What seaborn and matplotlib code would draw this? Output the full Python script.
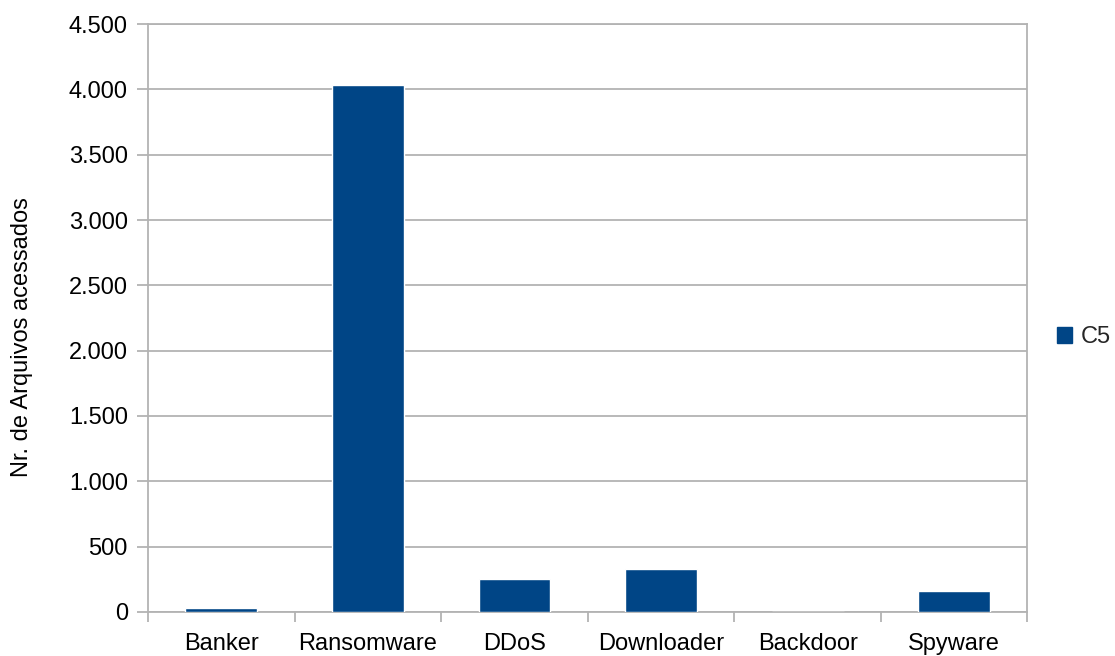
import matplotlib
matplotlib.use("Agg")
import matplotlib.pyplot as plt
from matplotlib.ticker import FuncFormatter, FixedLocator
from matplotlib.patches import Patch
import seaborn as sns
import pandas as pd

categories = ["Banker", "Ransomware", "DDoS", "Downloader", "Backdoor", "Spyware"]
c5_values = [33, 4030, 250, 330, 0, 163]
y_ticks = [0, 500, 1000, 1500, 2000, 2500, 3000, 3500, 4000, 4500]
series_name = "C5"

sns.set_theme(style="white")
plt.rcParams["font.family"] = ["Liberation Sans", "DejaVu Sans"]

grid_color = "#b3b3b3"
bar_color = "#004586"
fs = 17

df = pd.DataFrame({"categoria": categories, "valor": c5_values})

fig = plt.figure(figsize=(11.15, 6.56), dpi=100)
ax = fig.add_axes([0.1327, 0.0671, 0.7888, 0.8963])

sns.barplot(data=df, x="categoria", y="valor", color=bar_color,
            width=0.49, saturation=1, ax=ax, zorder=3)

ax.set_xlim(-0.5, len(categories) - 0.5)
ax.set_ylim(0, 4500)
ax.yaxis.set_major_locator(FixedLocator(y_ticks))
ax.yaxis.set_major_formatter(FuncFormatter(lambda v, p: f"{int(v):,}".replace(",", ".")))
ax.grid(axis="y", color=grid_color, linewidth=1.3, zorder=0)
ax.grid(axis="x", visible=False)

# category separators as major x ticks, labels centred via minor ticks
ax.set_xticks([i - 0.5 for i in range(len(categories) + 1)])
ax.set_xticklabels([])
ax.set_xticks(range(len(categories)), minor=True)
ax.set_xticklabels(categories, minor=True)
ax.tick_params(axis="x", which="major", length=7.2, width=1.3, color=grid_color, bottom=True)
ax.tick_params(axis="x", which="minor", length=0, pad=15, labelsize=fs, labelcolor="#000000")
ax.tick_params(axis="y", which="major", length=8, width=1.3, color=grid_color, left=True,
               pad=6.5, labelsize=fs, labelcolor="#000000")

for side in ["left", "right", "top", "bottom"]:
    ax.spines[side].set_visible(True)
    ax.spines[side].set_color(grid_color)
    ax.spines[side].set_linewidth(1.3)

ax.set_xlabel("")
ax.set_ylabel("Nr. de Arquivos acessados", fontsize=fs, color="#000000")
ax.yaxis.set_label_coords(-0.131, 0.467)

handle = Patch(facecolor=bar_color, edgecolor=bar_color)
fig.legend([handle], [series_name], loc="center left", bbox_to_anchor=(0.948, 0.486),
           frameon=False, fontsize=fs, handlelength=0.65, handleheight=0.65,
           handletextpad=0.35, borderpad=0, borderaxespad=0)

fig.savefig("out.png", dpi=100)
